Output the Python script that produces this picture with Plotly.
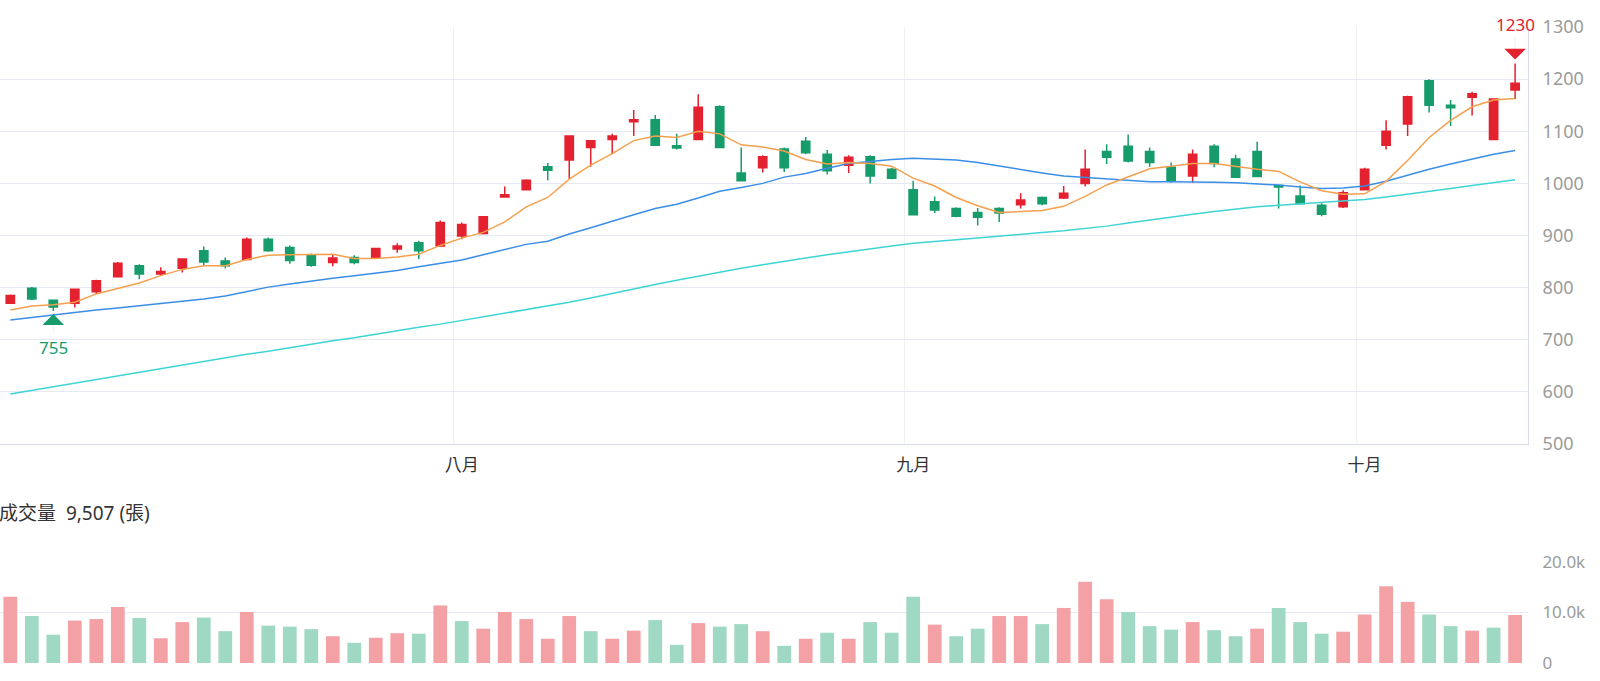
import plotly.graph_objects as go

# ---------------- data ----------------
day_idx = list(range(71))                      # trading-day positions
month_labels = ['八月', '九月', '十月']
month_first_idx = [21, 42, 63]                 # first trading day of each month

opens = [770, 799, 776, 770, 792, 821, 842, 826, 837, 871, 851, 854, 893, 877, 861, 848, 858, 858,
         874, 886, 880, 899, 904, 974, 988, 1032, 1045, 1069, 1084, 1118, 1122, 1072, 1084, 1147,
         1020, 1030, 1066, 1081, 1056, 1035, 1051, 1027, 988, 965, 952, 944, 952, 959, 973, 972,
         1000, 1061, 1071, 1061, 1031, 1014, 1071, 1047, 1061, 996, 976, 958, 955, 988, 1073, 1114,
         1197, 1150, 1165, 1084, 1179]
closes = [785, 778, 763, 797, 813, 847, 826, 831, 855, 849, 842, 893, 871, 852, 843, 857, 848, 875,
          880, 871, 925, 921, 936, 978, 1006, 1025, 1091, 1082, 1091, 1122, 1073, 1068, 1146, 1069,
          1005, 1051, 1030, 1059, 1024, 1050, 1014, 1010, 940, 949, 937, 935, 943, 968, 961, 981,
          1027, 1050, 1043, 1040, 1005, 1056, 1038, 1012, 1013, 993, 961, 941, 982, 1027, 1100, 1166,
          1150, 1145, 1172, 1162, 1192]
highs = [787, 801, 777, 798, 815, 849, 845, 839, 856, 879, 858, 896, 896, 881, 865, 864, 862, 876,
         885, 890, 929, 925, 937, 994, 1008, 1039, 1092, 1083, 1095, 1141, 1131, 1095, 1171, 1150,
         1069, 1054, 1069, 1089, 1064, 1054, 1054, 1030, 1005, 975, 954, 953, 954, 981, 975, 995,
         1065, 1075, 1094, 1069, 1040, 1065, 1075, 1055, 1080, 997, 996, 962, 987, 1030, 1121, 1168,
         1200, 1160, 1176, 1162, 1230]
lows = [769, 776, 755, 762, 788, 820, 816, 824, 829, 841, 837, 853, 869, 846, 840, 841, 845, 857,
        867, 855, 879, 893, 902, 973, 987, 1006, 1009, 1032, 1056, 1091, 1072, 1065, 1083, 1069,
        1005, 1021, 1022, 1056, 1017, 1020, 1000, 1008, 940, 943, 935, 919, 926, 952, 958, 970,
        994, 1037, 1040, 1032, 1001, 1001, 1031, 1011, 1012, 952, 960, 937, 953, 987, 1065, 1091,
        1136, 1110, 1130, 1084, 1162]

ma5 = [757, 765, 767, 772, 788, 799, 809, 823, 835, 842, 842, 854, 862, 863, 863, 864, 856, 856,
       859, 864, 881, 895, 906, 926, 955, 973, 1008, 1035, 1057, 1082, 1091, 1088, 1100, 1095,
       1074, 1070, 1062, 1046, 1037, 1040, 1038, 1033, 1010, 995, 973, 957, 944, 946, 948, 956,
       975, 997, 1013, 1028, 1033, 1038, 1038, 1032, 1027, 1023, 1003, 986, 979, 980, 1004, 1044,
       1088, 1121, 1147, 1160, 1163]
ma20 = [738, 743, 748, 752, 757, 761, 765, 769, 773, 778, 784, 792, 801, 807, 813, 818, 823, 828,
        833, 840, 847, 853, 863, 873, 883, 889, 903, 915, 928, 940, 952, 960, 972, 985, 992, 1000,
        1012, 1019, 1029, 1038, 1042, 1046, 1048, 1047, 1045, 1040, 1033, 1027, 1020, 1014, 1011,
        1008, 1005, 1003, 1003, 1003, 1002, 1001, 999, 997, 993, 990, 991, 995, 1004, 1016, 1027,
        1037, 1046, 1056, 1063]
ma60 = [596, 603, 610, 616, 623, 630, 637, 644, 651, 658, 665, 672, 678, 685, 691, 698, 704, 711,
        717, 724, 730, 737, 744, 750, 757, 764, 772, 780, 789, 797, 806, 814, 822, 830, 837, 844,
        851, 857, 863, 869, 875, 880, 885, 889, 892, 895, 899, 902, 906, 909, 913, 918, 924, 930,
        935, 941, 946, 951, 955, 958, 961, 964, 967, 969, 974, 979, 985, 990, 996, 1001, 1007]

volumes = [13100, 9300, 5600, 8400, 8700, 11100, 8900, 4900, 8100, 9000, 6300, 10100, 7400, 7200,
           6700, 5300, 4000, 5000, 5900, 5800, 11400, 8300, 6800, 10100, 8700, 4800, 9300, 6300,
           4800, 6400, 8500, 3600, 7900, 7200, 7700, 6300, 3400, 4800, 6000, 4800, 8100, 6000,
           13100, 7600, 5300, 6800, 9300, 9300, 7700, 10900, 16100, 12600, 10100, 7300, 6600, 8100,
           6500, 5300, 6800, 10900, 8100, 5800, 6200, 9600, 15200, 12100, 9600, 7300, 6400, 7000,
           9507]

vol_ticks = [0, 10000, 20000]
vol_ticktext = ['0', '10.0k', '20.0k']

# ---------------- styles ----------------
RED = '#e3212f'
GREEN = '#169c6a'
VOL_RED = '#f4a1a6'
VOL_GREEN = '#9fd8c3'
C_MA5 = '#f5a04e'
C_MA20 = '#3b8ee6'
C_MA60 = '#3fd4d4'
GRID = '#e6e9f3'
AXIS = '#d8dde9'
TICK_GREY = '#9b9b9b'
FONT = 'Noto Sans, Noto Sans CJK TC, sans-serif'

vol_colors = []
for i, c in enumerate(closes):
    prev = closes[i - 1] if i > 0 else opens[i]
    vol_colors.append(VOL_RED if c >= prev else VOL_GREEN)

fig = go.Figure()

for vals, col in [(ma60, C_MA60), (ma20, C_MA20), (ma5, C_MA5)]:
    fig.add_trace(go.Scatter(x=day_idx, y=vals, mode='lines', line=dict(color=col, width=1.5),
                             xaxis='x', yaxis='y', hoverinfo='skip'))

fig.add_trace(go.Candlestick(
    x=day_idx, open=opens, high=highs, low=lows, close=closes,
    increasing=dict(line=dict(color=RED, width=1.5), fillcolor=RED),
    decreasing=dict(line=dict(color=GREEN, width=1.5), fillcolor=GREEN),
    whiskerwidth=0, xaxis='x', yaxis='y', hoverinfo='skip'))

fig.add_trace(go.Bar(x=day_idx, y=volumes, marker=dict(color=vol_colors, line_width=0),
                     xaxis='x2', yaxis='y2', hoverinfo='skip'))

# high / low markers
hi_i = highs.index(max(highs))
lo_i = lows.index(min(lows))
annotations = [
    dict(x=hi_i, y=highs[hi_i], xref='x', yref='y', text=str(highs[hi_i]),
         showarrow=True, ax=0, ay=-39, arrowhead=1, arrowwidth=0.1, arrowsize=36,
         arrowcolor=RED, standoff=4, font=dict(size=17, color=RED, family=FONT)),
    dict(x=lo_i, y=lows[lo_i], xref='x', yref='y', text=str(lows[lo_i]),
         showarrow=True, ax=0, ay=36, arrowhead=1, arrowwidth=0.1, arrowsize=36,
         arrowcolor=GREEN, standoff=3, font=dict(size=17, color=GREEN, family=FONT)),
    dict(x=0, y=0.2358, xref='paper', yref='paper', xanchor='left', yanchor='middle', xshift=-3,
         text='成交量\u00a0\u00a0' + f'{volumes[-1]:,}' + ' (張)', showarrow=False,
         font=dict(size=19, color='#333333', family=FONT)),
]

fig.update_layout(
    width=1600, height=681,
    margin=dict(l=0, r=72, t=27, b=18),
    paper_bgcolor='white', plot_bgcolor='white',
    showlegend=False, boxgap=0.45, bargap=0.36,
    font=dict(family=FONT),
    annotations=annotations,
    xaxis=dict(domain=[0, 1], anchor='y', range=[-0.48, 70.6],
               tickmode='array', tickvals=month_first_idx, ticktext=month_labels,
               showgrid=False,
               minor=dict(tickmode='array', tickvals=[m - 0.4 for m in month_first_idx],
                          showgrid=True, gridcolor='#eef0f6', gridwidth=1, ticks=''),
               ticks='outside', ticklen=6, tickcolor='rgba(0,0,0,0)',
               tickfont=dict(size=17, color='#333333'),
               showline=True, linecolor=AXIS, linewidth=1, zeroline=False,
               rangeslider=dict(visible=False), fixedrange=True),
    yaxis=dict(domain=[0.3443, 1], anchor='x', side='right', range=[500, 1300],
               tick0=500, dtick=100, showgrid=True, gridcolor=GRID, gridwidth=1,
               ticks='outside', ticklen=10, tickcolor='rgba(0,0,0,0)',
               tickfont=dict(size=18, color=TICK_GREY),
               showline=True, linecolor=AXIS, mirror=True, zeroline=False, fixedrange=True),
    xaxis2=dict(domain=[0, 1], anchor='y2', matches='x', showticklabels=False,
                showgrid=False, zeroline=False, showline=False, fixedrange=True),
    yaxis2=dict(domain=[0, 0.1588], anchor='x2', side='right', range=[0, 20000],
                tickmode='array', tickvals=vol_ticks, ticktext=vol_ticktext,
                showgrid=True, gridcolor=GRID, gridwidth=1,
                ticks='outside', ticklen=10, tickcolor='rgba(0,0,0,0)',
                tickfont=dict(size=17, color=TICK_GREY),
                showline=False, zeroline=False, fixedrange=True),
)

fig.write_html('out.html')
